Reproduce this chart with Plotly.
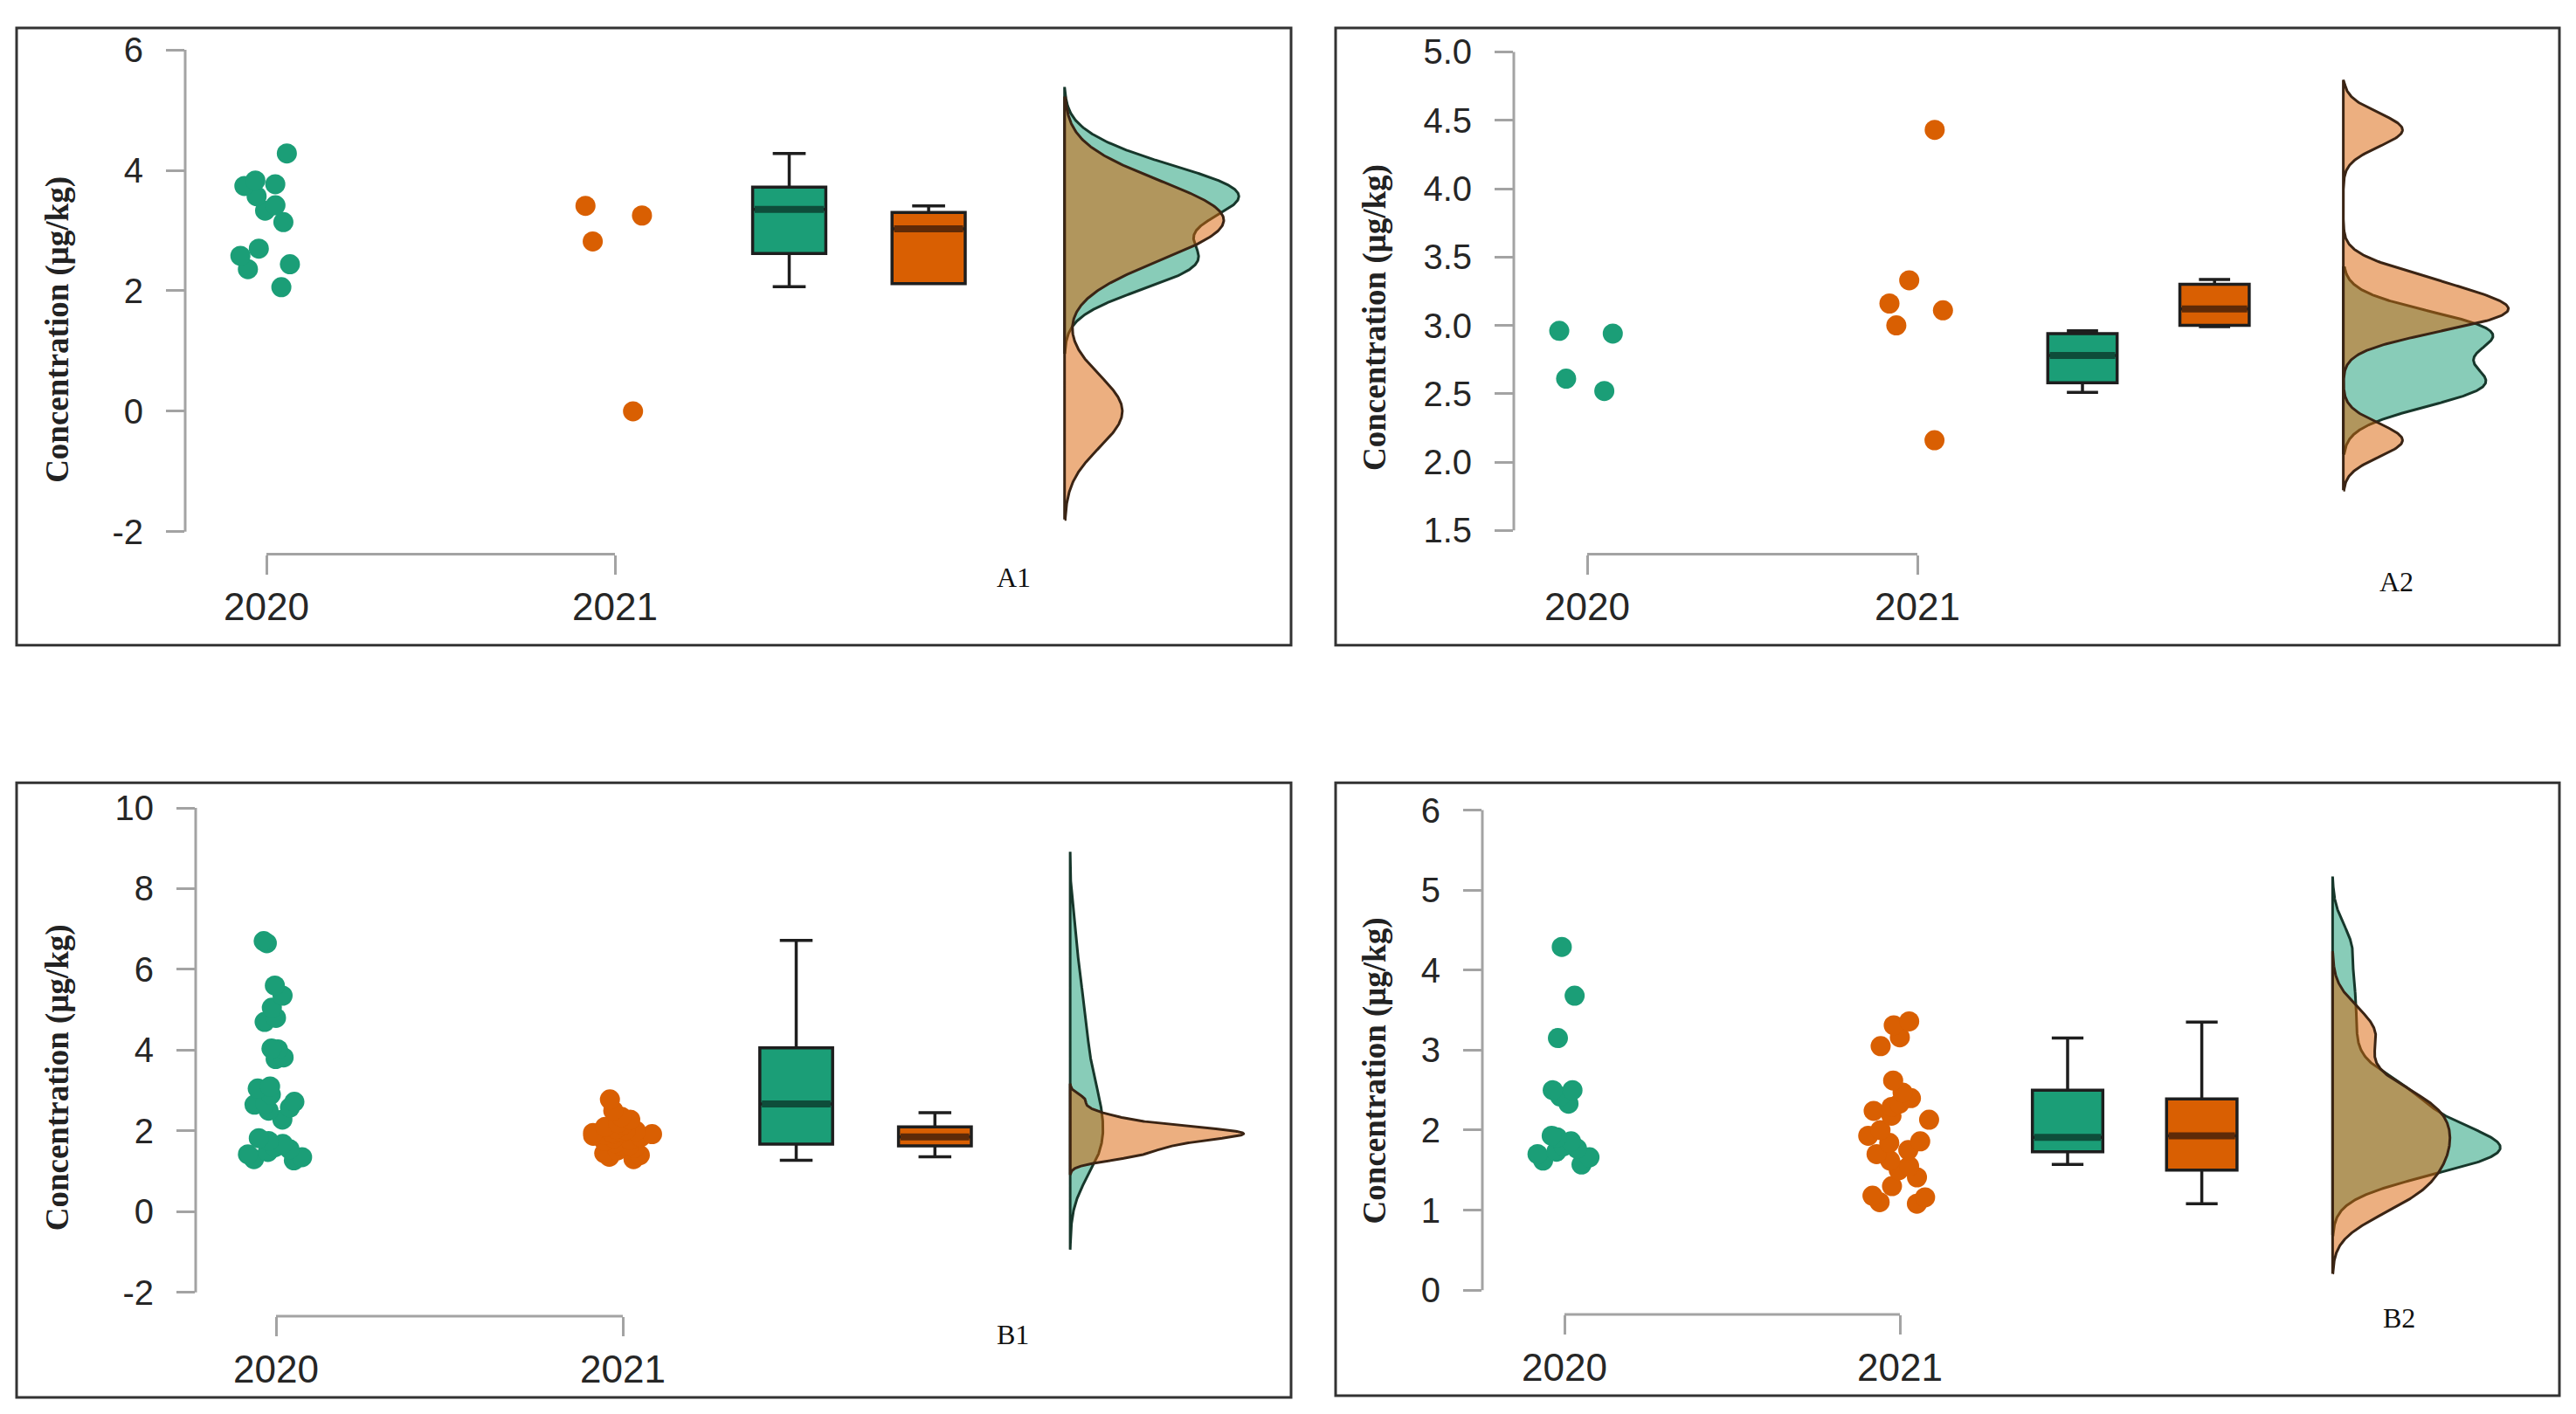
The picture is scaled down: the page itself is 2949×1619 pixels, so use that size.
import numpy as np
import plotly.graph_objects as go

# --- data (concentration, ug/kg) ---
years = ["2020", "2021"]

a1_2020 = [2.06, 2.36, 2.44, 2.58, 2.70, 3.14, 3.33, 3.42, 3.57, 3.74, 3.77, 3.83, 4.28]
a1_2021 = [0.0, 2.82, 3.25, 3.41]
a1_box_2020 = [2.07, 2.62, 3.35, 3.72, 4.28]   # lower whisker, q1, median, q3, upper whisker
a1_box_2021 = [2.12, 2.12, 3.03, 3.30, 3.41]
a1_ticks = [-2, 0, 2, 4, 6]

a2_2020 = [2.52, 2.61, 2.94, 2.96]
a2_2021 = [2.16, 3.00, 3.11, 3.16, 3.33, 4.43]
a2_box_2020 = [2.51, 2.58, 2.78, 2.94, 2.96]
a2_box_2021 = [2.99, 3.00, 3.12, 3.30, 3.335]
a2_ticks = [1.5, 2.0, 2.5, 3.0, 3.5, 4.0, 4.5, 5.0]

b1_2020 = [1.27, 1.30, 1.35, 1.42, 1.48, 1.55, 1.60, 1.68, 1.75, 1.82,
           2.28, 2.50, 2.58, 2.65, 2.68, 2.72, 2.90, 3.05, 3.10,
           3.78, 3.82, 4.02, 4.04, 4.70, 4.80, 5.05, 5.35, 5.60, 6.65, 6.70]
b1_2021 = [1.30, 1.36, 1.40, 1.45, 1.52, 1.58, 1.62, 1.65, 1.70, 1.75,
           1.78, 1.82, 1.85, 1.88, 1.90, 1.92, 1.94, 1.95, 1.96, 1.98,
           2.00, 2.02, 2.05, 2.10, 2.15, 2.20, 2.28, 2.35, 2.50, 2.78]
b1_box_2020 = [1.27, 1.67, 2.67, 4.06, 6.72]
b1_box_2021 = [1.36, 1.63, 1.85, 2.10, 2.45]
b1_ticks = [-2, 0, 2, 4, 6, 8, 10]

b2_2020 = [1.57, 1.62, 1.66, 1.70, 1.73, 1.77, 1.80, 1.86, 1.91, 1.93,
           2.33, 2.42, 2.50, 2.50, 3.15, 3.68, 4.29]
b2_2021 = [1.08, 1.10, 1.16, 1.18, 1.30, 1.41, 1.50, 1.55, 1.62, 1.70,
           1.75, 1.84, 1.86, 1.93, 2.00, 2.13, 2.18, 2.24, 2.29, 2.33,
           2.40, 2.47, 2.62, 3.05, 3.16, 3.31, 3.36]
b2_box_2020 = [1.57, 1.73, 1.91, 2.50, 3.15]
b2_box_2021 = [1.08, 1.50, 1.93, 2.39, 3.35]
b2_ticks = [0, 1, 2, 3, 4, 5, 6]

panel_labels = ["A1", "A2", "B1", "B2"]
y_title = "Concentration (μg/kg)"

# --- styling ---
GREEN = "#1B9E77"
ORANGE = "#D95F02"
GREEN_FILL = "rgba(27,158,119,0.52)"
ORANGE_FILL = "rgba(217,95,2,0.5)"
GREEN_DARK = "#0E4D3A"
ORANGE_DARK = "#5E2A08"
AXIS_GREY = "#A3A3A3"
SANS = "Liberation Sans, Arial, sans-serif"
SERIF = "Liberation Serif, Times New Roman, serif"

CAT_POS = [1, 2]          # dots
BOX_POS = [2.5, 2.9]      # boxplots
DENS_BASE = 3.29          # half-violins
DENS_WIDTH = 0.5
BOX_W = 0.21

# page is W x H, the figure sits inside the body's 8px margin
W, H, PAD = 2949, 1619, 8
FW, FH = W - 2 * PAD, H - 2 * PAD


def px(x):
    return (x - PAD) / FW


def py(y):
    return 1 - (y - PAD) / FH


# geometry in page pixels: plot area, pixel of category 1 / 2, two tick pixels, border, title, label
layout_spec = [
    dict(area=(212, 1460, 35, 626), cat=(305, 704), yref=((6, 43.4), (-2, 600)),
         border=(19, 1478, 18, 731), title=(66, 367), lab=(1160, 653), fmt="{:g}"),
    dict(area=(1733, 2915, 35, 626), cat=(1817, 2195), yref=((5.0, 45.8), (1.5, 598.5)),
         border=(1529, 2930, 18, 731), title=(1574, 353), lab=(2743, 658), fmt="{:.1f}"),
    dict(area=(224, 1460, 905, 1506), cat=(316, 713), yref=((10, 919), (-2, 1478.6)),
         border=(19, 1478, 890, 1600), title=(66, 1231), lab=(1159, 1527), fmt="{:g}"),
    dict(area=(1697, 2915, 905, 1504), cat=(1791, 2175), yref=((6, 921.5), (0, 1476)),
         border=(1529, 2930, 890, 1598), title=(1574, 1223), lab=(2746, 1508), fmt="{:g}"),
]

panel_data = [
    (a1_2020, a1_2021, a1_box_2020, a1_box_2021, a1_ticks),
    (a2_2020, a2_2021, a2_box_2020, a2_box_2021, a2_ticks),
    (b1_2020, b1_2021, b1_box_2020, b1_box_2021, b1_ticks),
    (b2_2020, b2_2021, b2_box_2020, b2_box_2021, b2_ticks),
]


def kde(values):
    # gaussian kernel density, Silverman bandwidth (R bw.nrd0), cut = 3
    v = np.asarray(values, float)
    n = v.size
    q75, q25 = np.percentile(v, [75, 25])
    bw = 0.9 * min(v.std(ddof=1), (q75 - q25) / 1.34) * n ** -0.2
    grid = np.linspace(v.min() - 3 * bw, v.max() + 3 * bw, 500)
    dens = np.exp(-0.5 * ((grid[:, None] - v[None, :]) / bw) ** 2).sum(axis=1)
    dens /= n * bw * np.sqrt(2 * np.pi)
    return grid, dens


fig = go.Figure()
shapes = []
annotations = []

for i, ((g, o, gbox, obox, ticks), spec) in enumerate(zip(panel_data, layout_spec)):
    k = "" if i == 0 else str(i + 1)
    xa, ya = "x" + k, "y" + k

    # pixel geometry -> axis ranges
    left, right, top, bottom = spec["area"]
    c1, c2 = spec["cat"]
    xr = [1 + (left - c1) / (c2 - c1), 1 + (right - c1) / (c2 - c1)]
    (v_hi, p_hi), (v_lo, p_lo) = spec["yref"]
    upp = (v_hi - v_lo) / (p_lo - p_hi)
    yr = [v_lo - (bottom - p_lo) * upp, v_hi + (p_hi - top) * upp]

    # jittered raw points (box hidden, only its points)
    for vals, pos, col in [(g, CAT_POS[0], GREEN), (o, CAT_POS[1], ORANGE)]:
        fig.add_trace(go.Box(
            y=vals, x0=pos, boxpoints="all", jitter=1, pointpos=0, width=0.2,
            fillcolor="rgba(0,0,0,0)", line=dict(width=0, color="rgba(0,0,0,0)"),
            marker=dict(color=col, size=23, line=dict(width=0)),
            hoverinfo="skip", showlegend=False, xaxis=xa, yaxis=ya))

    # boxplots
    for st, pos, col, dark in [(gbox, BOX_POS[0], GREEN, GREEN_DARK), (obox, BOX_POS[1], ORANGE, ORANGE_DARK)]:
        fig.add_trace(go.Box(
            x=[pos], lowerfence=[st[0]], q1=[st[1]], median=[st[2]], q3=[st[3]], upperfence=[st[4]],
            width=BOX_W, whiskerwidth=0.45, fillcolor=col,
            line=dict(color="#1E1E1E", width=3.5), boxpoints=False,
            hoverinfo="skip", showlegend=False, xaxis=xa, yaxis=ya))
        fig.add_trace(go.Scatter(
            x=[pos - BOX_W / 2 + 0.006, pos + BOX_W / 2 - 0.006], y=[st[2], st[2]], mode="lines",
            line=dict(color=dark, width=8), hoverinfo="skip", showlegend=False, xaxis=xa, yaxis=ya))

    # half violins (density), scaled so the widest reaches DENS_WIDTH
    dens_sets = [kde(g), kde(o)]
    dmax = max(d.max() for _, d in dens_sets)
    for (grid, d), fill, edge in zip(dens_sets, [GREEN_FILL, ORANGE_FILL], ["#17372B", "#3A2414"]):
        xs = np.concatenate([[DENS_BASE], DENS_BASE + d / dmax * DENS_WIDTH, [DENS_BASE, DENS_BASE]])
        ys = np.concatenate([[grid[0]], grid, [grid[-1], grid[0]]])
        fig.add_trace(go.Scatter(
            x=xs, y=ys, mode="lines", fill="toself", fillcolor=fill,
            line=dict(color=edge, width=3), hoverinfo="skip", showlegend=False,
            xaxis=xa, yaxis=ya))

    fig.update_layout({
        "xaxis" + k: dict(domain=[px(left), px(right)], range=xr, anchor=ya,
                          tickvals=CAT_POS, ticktext=years, ticks="outside", ticklen=22,
                          tickwidth=3, tickcolor=AXIS_GREY, ticklabelstandoff=0,
                          showline=False, showgrid=False, zeroline=False,
                          tickfont=dict(family=SANS, size=44, color="#262626")),
        "yaxis" + k: dict(domain=[py(bottom), py(top)], range=yr, anchor=xa,
                          tickvals=ticks, ticktext=[spec["fmt"].format(t) for t in ticks],
                          ticks="outside", ticklen=21, tickwidth=3, tickcolor=AXIS_GREY,
                          ticklabelstandoff=18, showline=False, showgrid=False, zeroline=False,
                          tickfont=dict(family=SANS, size=40, color="#262626")),
    })

    # R-style axis lines: y axis only between outer ticks, x axis as bracket between categories
    shapes.append(dict(type="line", xref=xa + " domain", x0=0, x1=0, yref=ya,
                       y0=min(ticks), y1=max(ticks), line=dict(color=AXIS_GREY, width=3)))
    shapes.append(dict(type="line", xref=xa, x0=CAT_POS[0], x1=CAT_POS[1], yref=ya + " domain",
                       y0=0, y1=0, line=dict(color=AXIS_GREY, width=3)))
    bl, br, bt, bb = spec["border"]
    shapes.append(dict(type="rect", xref="paper", yref="paper", x0=px(bl), x1=px(br),
                       y0=py(bb), y1=py(bt), line=dict(color="#333333", width=3)))

    annotations.append(dict(text="<b>" + y_title + "</b>", xref="paper", yref="paper",
                            x=px(spec["title"][0]), y=py(spec["title"][1]), textangle=-90,
                            showarrow=False, xanchor="center", yanchor="middle",
                            font=dict(family=SERIF, size=37, color="#222222")))
    annotations.append(dict(text=panel_labels[i], xref="paper", yref="paper",
                            x=px(spec["lab"][0]), y=py(spec["lab"][1]), showarrow=False,
                            xanchor="center", yanchor="middle",
                            font=dict(family=SERIF, size=32, color="#111111")))

fig.update_layout(
    width=FW, height=FH,
    margin=dict(l=0, r=0, t=0, b=0),
    paper_bgcolor="white", plot_bgcolor="white",
    boxmode="overlay", showlegend=False,
    shapes=shapes, annotations=annotations,
)

fig.write_html("out.html")
